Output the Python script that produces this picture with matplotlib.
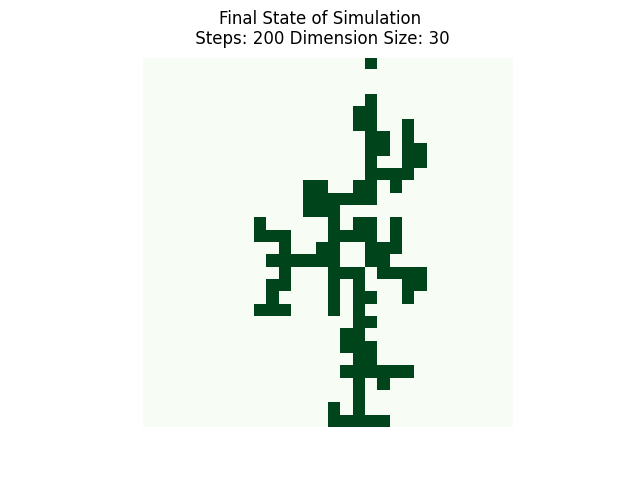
import numpy as np
import matplotlib
matplotlib.use("Agg")
import matplotlib.pyplot as plt

size = 30
steps = 200
# occupied columns for each row (row index -> list of columns)
occupied = {
    0: [18],
    3: [18],
    4: [17, 18],
    5: [17, 18, 21],
    6: [18, 19, 21],
    7: [18, 19, 21, 22],
    8: [18, 21, 22],
    9: [18, 19, 20, 21],
    10: [13, 14, 17, 18, 20],
    11: [13, 14, 15, 16, 17, 18],
    12: [13, 14, 15],
    13: [9, 15, 17, 18, 20],
    14: [9, 10, 11, 15, 16, 17, 18, 20],
    15: [11, 14, 15, 18, 19, 20],
    16: [10, 11, 12, 13, 14, 15, 18, 19],
    17: [11, 15, 16, 17, 19, 20, 21, 22],
    18: [10, 11, 15, 17, 21, 22],
    19: [10, 15, 17, 18, 21],
    20: [9, 10, 11, 15, 17],
    21: [17, 18],
    22: [16, 17],
    23: [16, 17, 18],
    24: [17, 18],
    25: [16, 17, 18, 19, 20, 21],
    26: [17, 19],
    27: [17],
    28: [15, 17],
    29: [15, 16, 17, 18, 19],
}

grid = np.zeros((size, size))
for r, cols in occupied.items():
    for c in cols:
        grid[r, c] = 1

fig = plt.figure(figsize=(6.4, 4.8), dpi=100)
plt.imshow(grid, cmap="Greens", interpolation="nearest")
fig.suptitle(f"Final State of Simulation\n Steps: {steps} Dimension Size: {size}", fontsize=12)
plt.axis("off")
plt.savefig("out.png")
